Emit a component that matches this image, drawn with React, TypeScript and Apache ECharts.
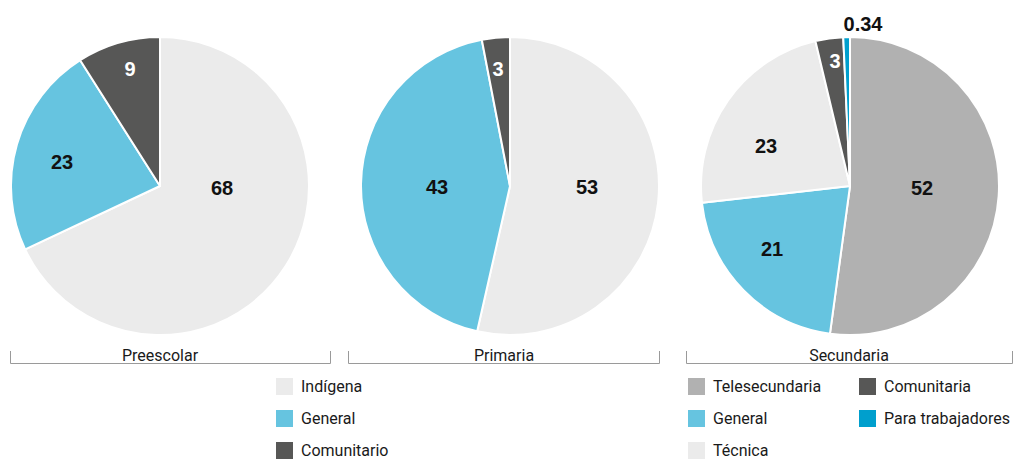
import React, { useEffect, useRef } from "react";
import * as echarts from "echarts";

// ---- Data ----
const preescolarNames = ["Indígena", "General", "Comunitario"];
const preescolarValues = [68, 23, 9];
const primariaNames = ["Indígena", "General", "Comunitario"];
const primariaValues = [53, 43, 3];
const secundariaNames = ["Telesecundaria", "General", "Técnica", "Comunitaria", "Para trabajadores"];
const secundariaValues = [52, 21, 23, 3, 0.34];
const groupTitles = ["Preescolar", "Primaria", "Secundaria"];

// ---- Styles ----
const colorMap: Record<string, string> = {
  "Indígena": "#ebebeb",
  "General": "#66c4e0",
  "Comunitario": "#575756",
  "Telesecundaria": "#b1b1b1",
  "Técnica": "#ebebeb",
  "Comunitaria": "#575756",
  "Para trabajadores": "#009fcd",
};
const labelColorMap: Record<string, string> = {
  "Comunitario": "#ffffff",
  "Comunitaria": "#ffffff",
};
const centers: [number, number][] = [
  [160, 186],
  [510, 186],
  [850, 186],
];
const radius = 149;
// label offsets from each pie's centre (px)
const labelOffsets: [number, number][][] = [
  [[62, 2], [-98, -24], [-30, -117]],
  [[77, 1], [-73, 1], [-12, -117]],
  [[72, 2], [-78, 63], [-84, -40], [-15, -125], [13, -162]],
];
const brackets = [
  { x1: 10, x2: 330, tx: 160 },
  { x1: 348, x2: 659, tx: 504 },
  { x1: 686, x2: 1012, tx: 849 },
];
const FONT = "Roboto, 'Liberation Sans', Arial, sans-serif";
const NUMFONT = "'Liberation Sans', Arial, sans-serif";

function makeSeries(names: string[], values: number[], idx: number, extra: any = {}) {
  return {
    type: "pie",
    name: groupTitles[idx],
    center: centers[idx],
    radius: radius,
    startAngle: 90,
    clockwise: true,
    ...extra,
    itemStyle: { borderColor: "#ffffff", borderWidth: 2 },
    label: {
      show: true,
      position: "inside",
      fontFamily: NUMFONT,
      fontWeight: "bold",
      fontSize: 20,
      color: "#111111",
      formatter: (p: any) => String(p.value),
    },
    labelLine: { show: false },
    emphasis: { disabled: true },
    labelLayout: (p: any) => {
      const off = labelOffsets[idx][p.dataIndex];
      return {
        x: centers[idx][0] + off[0],
        y: centers[idx][1] + off[1],
        align: "center",
        verticalAlign: "middle",
      };
    },
    data: names.map((n, i) => ({
      name: n,
      value: values[i],
      itemStyle: { color: colorMap[n] },
      label: { color: labelColorMap[n] || "#111111" },
    })),
  };
}

export default function App() {
  const ref = useRef<HTMLDivElement>(null);
  useEffect(() => {
    document.body.style.margin = "0";
    if (!ref.current) return;
    const chart = echarts.init(ref.current, undefined, { renderer: "svg" });
    const legendBase = {
      orient: "vertical",
      top: 376,
      height: 120,
      padding: 0,
      itemWidth: 19,
      itemHeight: 19,
      itemGap: 11,
      icon: "rect",
      selectedMode: false,
      textStyle: { fontFamily: FONT, fontSize: 16, color: "#1a1a1a", padding: [0, 0, 0, 2] },
    };
    const graphics: any[] = [];
    brackets.forEach((b, i) => {
      graphics.push({
        type: "polyline",
        shape: { points: [[b.x1 + 0.5, 351], [b.x1 + 0.5, 363.5], [b.x2 + 0.5, 363.5], [b.x2 + 0.5, 351]] },
        style: { stroke: "#9a9a9a", lineWidth: 1, fill: null },
        silent: true,
      });
      graphics.push({
        type: "text",
        x: b.tx,
        y: 355,
        style: {
          text: groupTitles[i],
          fontFamily: FONT,
          fontSize: 16,
          fill: "#1a1a1a",
          align: "center",
          verticalAlign: "middle",
        },
        silent: true,
      });
    });
    chart.setOption({
      animation: false,
      backgroundColor: "#ffffff",
      legend: [
        { ...legendBase, left: 274, data: ["Indígena", "General", "Comunitario"] },
        { ...legendBase, left: 686, data: ["Telesecundaria", "General", "Técnica"] },
        { ...legendBase, left: 857, data: ["Comunitaria", "Para trabajadores"] },
      ],
      series: [
        makeSeries(preescolarNames, preescolarValues, 0),
        makeSeries(primariaNames, primariaValues, 1),
        makeSeries(secundariaNames, secundariaValues, 2, { minAngle: 2.6 }),
      ],
      graphic: graphics,
    });
    return () => chart.dispose();
  }, []);
  return <div ref={ref} style={{ width: 1013, height: 459 }} />;
}
